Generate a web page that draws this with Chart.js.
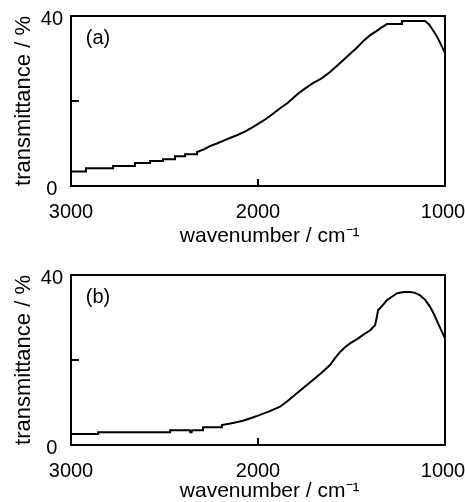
<!DOCTYPE html>
<html>
<head>
<meta charset="utf-8">
<script src="https://cdn.jsdelivr.net/npm/chart.js@4.4.1/dist/chart.umd.min.js"></script>
<style>
    body { margin: 0; background: #fff; overflow: hidden; }
    #wrapA { position: absolute; left: 0; top: 0; width: 465px; height: 250px; }
    #wrapB { position: absolute; left: 0; top: 259px; width: 465px; height: 245px; }
</style>
</head>
<body>
<div id="wrapA"><canvas id="chartA"></canvas></div>
<div id="wrapB"><canvas id="chartB"></canvas></div>
<script>
const wavenumberA = [3000, 2920, 2920, 2775, 2775, 2658, 2658, 2577, 2577, 2508, 2508, 2444, 2444, 2390, 2390, 2326, 2326,
    2290, 2257, 2220, 2187, 2150, 2110, 2070, 2030, 2000,
    1960, 1920, 1882, 1840, 1800, 1775, 1740, 1706, 1660, 1615, 1580, 1545, 1510, 1470, 1435, 1400, 1365, 1336, 1310,
    1230, 1230, 1107, 1085, 1065, 1045, 1027, 1010, 1000];
const transA = [3.4, 3.4, 4.2, 4.2, 4.7, 4.7, 5.4, 5.4, 5.9, 5.9, 6.3, 6.3, 7.0, 7.0, 7.5, 7.5, 8.0,
    8.6, 9.4, 10.0, 10.6, 11.3, 12.0, 12.8, 13.8, 14.6,
    15.7, 17.0, 18.3, 19.6, 21.2, 22.1, 23.2, 24.2, 25.3, 26.8, 28.2, 29.6, 31.0, 32.6, 34.2, 35.5, 36.5, 37.4, 38.1,
    38.1, 38.8, 38.8, 38.0, 36.7, 35.3, 33.8, 32.2, 31.3];

// spectrum (b)
const wavenumberB = [3000, 2855, 2855, 2470, 2470, 2365, 2362, 2355, 2352, 2294, 2294, 2193, 2193, 2134,
    2080, 2040, 2000, 1940, 1882, 1840, 1792, 1750, 1706,
    1660, 1615, 1590, 1561, 1535, 1508, 1470, 1438, 1400, 1374, 1365, 1358, 1335, 1310, 1280, 1256, 1220, 1186,
    1160, 1133, 1105, 1080, 1058, 1037, 1018, 1000];
const transB = [2.6, 2.6, 3.0, 3.0, 3.5, 3.5, 3.0, 3.0, 3.5, 3.5, 4.2, 4.2, 4.7, 5.2,
    5.7, 6.3, 6.9, 7.9, 9.0, 10.4, 12.2, 13.7, 15.3,
    17.0, 18.8, 20.3, 21.9, 23.0, 23.9, 24.9, 25.9, 27.0, 28.2, 30.0, 31.7, 32.8, 34.1, 35.0, 35.7, 36.0, 36.0,
    35.8, 35.2, 34.1, 32.5, 30.7, 28.6, 26.8, 25.1];

const xTicks = [3000, 2000, 1000];
const yTicks = [0, 20, 40];
const yLabelled = [0, 40];

const fontName = "'Liberation Sans', Arial, sans-serif";

// frame, inner tick marks and panel letter
const framePlugin = {
    id: 'frame',
    afterDraw(chart) {
        const ctx = chart.ctx;
        const a = chart.chartArea;
        const xs = chart.scales.x;
        const ys = chart.scales.y;
        ctx.save();
        ctx.strokeStyle = '#000';
        ctx.lineWidth = 2;
        ctx.strokeRect(a.left, a.top, a.right - a.left, a.bottom - a.top);
        ctx.beginPath();
        let px = xs.getPixelForValue(xTicks[1]);
        ctx.moveTo(px, a.bottom);
        ctx.lineTo(px, a.bottom - 7);
        let py = ys.getPixelForValue(yTicks[1]);
        ctx.moveTo(a.left, py);
        ctx.lineTo(a.left + 8, py);
        ctx.stroke();
        ctx.fillStyle = '#000';
        ctx.font = '20px ' + fontName;
        ctx.textAlign = 'center';
        ctx.textBaseline = 'middle';
        ctx.fillText(chart.options.plugins.frame.letter, a.left + 27, a.top + 22);
        ctx.restore();
    }
};

function makeChart(id, xs, ys, letter, padBottom, xHeight) {
    let points = xs.map((x, i) => ({x: x, y: ys[i]}));
    return new Chart(document.getElementById(id).getContext('2d'), {
        type:'line',
        data:{
            datasets:[{
                data: points,
                borderColor:'#000',
                borderWidth: 2,
                pointRadius: 0,
                tension: 0,
                fill: false
            }]
        },
        options:{
            responsive: true,
            maintainAspectRatio: false,
            animation: false,
            layout:{
                padding:{ left: 11, right: 20, top: 16, bottom: padBottom }
            },
            scales:{
                x:{
                    type:'linear',
                    reverse: true,
                    min: 1000,
                    max: 3000,
                    afterBuildTicks: s => { s.ticks = xTicks.map(v => ({value: v})); },
                    afterFit: s => { s.height = xHeight; s.paddingLeft = 0; s.paddingRight = 0; },
                    grid:{ display: false, drawTicks: false },
                    border:{ display: false },
                    ticks:{
                        color:'#000',
                        padding: 14,
                        maxRotation: 0,
                        autoSkip: false,
                        font:{ family: fontName, size: 20 },
                        // keep the last label inside the window
                        callback: v => v === 1000 ? v + '\u2009' : String(v)
                    },
                    title:{
                        display: true,
                        text:'    wavenumber / cm⁻¹',
                        color:'#000',
                        padding: 0,
                        font:{ family: fontName, size: 21 }
                    }
                },
                y:{
                    min: 0,
                    max: 40,
                    afterBuildTicks: s => { s.ticks = yTicks.map(v => ({value: v})); },
                    afterFit: s => { s.width = 60; s.paddingTop = 0; s.paddingBottom = 0; },
                    grid:{ display: false, drawTicks: false },
                    border:{ display: false },
                    ticks:{
                        color:'#000',
                        padding: 8,
                        labelOffset: 3,
                        crossAlign:'center',
                        autoSkip: false,
                        font:{ family: fontName, size: 20 },
                        callback: v => yLabelled.includes(v) ? String(v) : ''
                    },
                    title:{
                        display: true,
                        text:'transmittance / %',
                        color:'#000',
                        padding: 0,
                        font:{ family: fontName, size: 22 }
                    }
                }
            },
            plugins:{
                legend:{ display: false },
                tooltip:{ enabled: false },
                frame:{ letter: letter }
            }
        },
        plugins:[framePlugin]
    });
}

makeChart('chartA', wavenumberA, transA, '(a)', 1, 63);
makeChart('chartB', wavenumberB, transB, '(b)', 0, 59);
</script>
</body>
</html>
